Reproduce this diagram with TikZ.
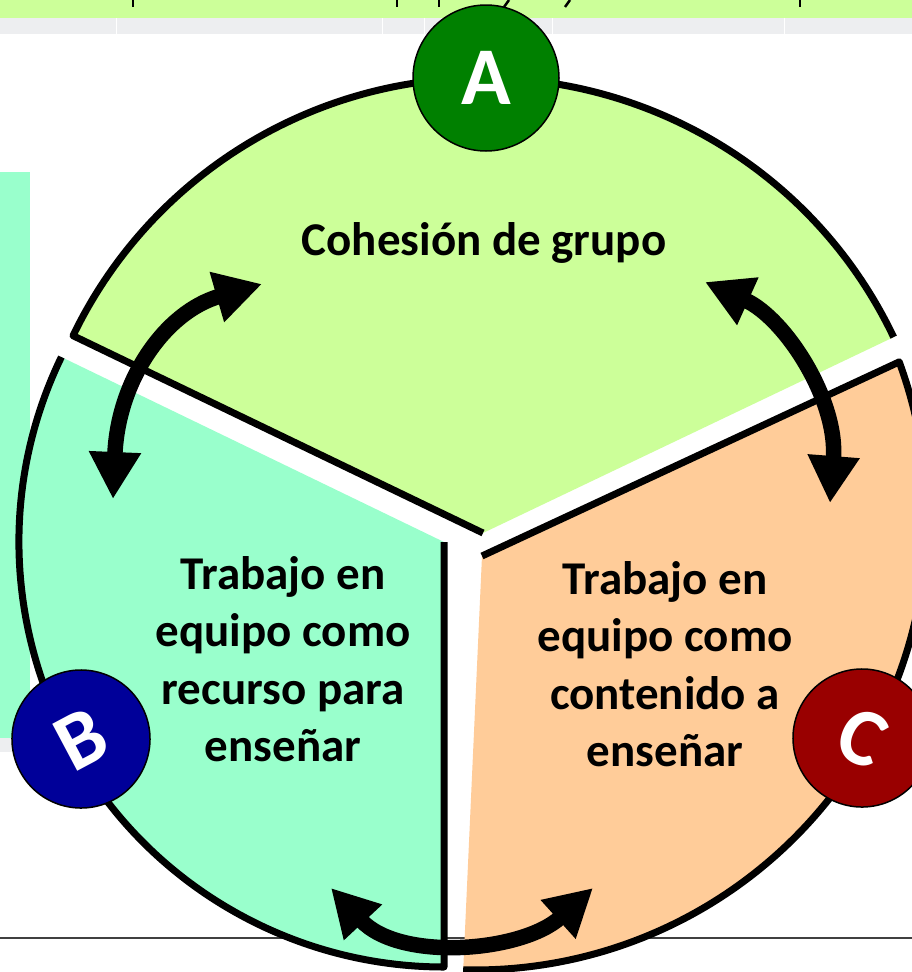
\documentclass[tikz,border=0pt]{standalone}
\usepackage{fontspec}
\setmainfont{Carlito}
\usetikzlibrary{arrows.meta}
\definecolor{Agreen}{HTML}{CCFF99}
\definecolor{Baqua}{HTML}{99FFCC}
\definecolor{Cpeach}{HTML}{FFCC99}
\definecolor{bandgray}{HTML}{EDEEF0}
\definecolor{Acirc}{HTML}{008000}
\definecolor{Bcirc}{HTML}{000099}
\definecolor{Ccirc}{HTML}{990000}
\tikzset{
  arcline/.style={line width=7pt, line join=round},
  dblarrow/.style={line width=15.5pt,
    {Triangle[length=47pt,width=49pt]}-{Triangle[length=47pt,width=49pt]}},
  badge/.style={circle, draw=black, line width=1.5pt, inner sep=0pt,
    text=white, font=\fontsize{82}{82}\selectfont\bfseries},
  lbl/.style={align=center, inner sep=0pt,
    font=\fontsize{47}{57.5}\selectfont\bfseries},
  tick/.style={line width=2.5pt, black},
}
\begin{document}
\begin{tikzpicture}[x=1pt,y=-1pt]
\useasboundingbox (0,0) rectangle (912,972);
\fill[white] (0,0) rectangle (912,972);
% top bands
\fill[Agreen] (0,0) rectangle (912,18);
\fill[bandgray] (0,18) rectangle (912,34);
\foreach \x in {116,382,424,552,784} \draw[white, line width=0.8pt] (\x,18) -- (\x,34);
\foreach \x in {133,397,439,800} \draw[tick] (\x,0) -- (\x,7);
\draw[tick] (509,0) -- (504,7);
\draw[tick] (570,0) -- (565,7);
% left strip
\fill[Baqua] (0,172) rectangle (30,738);
\fill[bandgray] (0,738) rectangle (32,752);
% bottom line
\coordinate (lineL) at (0,938);
\coordinate (lineR) at (912,938);
\draw[line width=2pt, black!75] (lineL) -- (lineR);
% slice A
\coordinate (VA) at (483,533);
\fill[Agreen] (VA) -- ++(-25.5:455) arc[start angle=-25.5, end angle=-154.3, radius=455] -- cycle;
\draw[arcline] (VA) ++(-25.5:455) arc[start angle=-25.5, end angle=-154.3, radius=455] -- (VA);
% slice B
\coordinate (VB) at (444,542);
\fill[Baqua] (VB) -- ++(-154.2:425) arc[start angle=-154.2, end angle=-270, radius=425] -- cycle;
\draw[arcline] (VB) ++(-154.2:425) arc[start angle=-154.2, end angle=-270, radius=425] -- (VB);
% slice C
\coordinate (VC) at (482,556);
\coordinate (CB) at (463.2,969.8);
\fill[Cpeach] (VC) -- (CB) arc[start angle=-268.5, end angle=-380.2, radius=452] -- cycle;
\draw[arcline] (CB) arc[start angle=-268.5, end angle=-380.2, radius=452] -- (VC);
% arrows
\coordinate (ab1) at (113,499);
\coordinate (ab2) at (262,284);
\coordinate (ac1) at (705,282);
\coordinate (ac2) at (830,503);
\coordinate (bc1) at (331,888);
\coordinate (bc2) at (593,888);
\draw[dblarrow] (ab1) .. controls (118,380) and (165,312) .. (ab2);
\draw[dblarrow] (ac1) .. controls (785,318) and (838,400) .. (ac2);
\draw[dblarrow] (bc1) .. controls (400,962) and (522,952) .. (bc2);
% texts
\node[lbl] (tA) at (484,243) {Cohesión de grupo};
\node[lbl] (tB) at (283,659) {Trabajo en\\equipo como\\recurso para\\enseñar};
\node[lbl] (tC) at (665,664) {Trabajo en\\equipo como\\contenido a\\enseñar};
% badges
\node[badge, fill=Acirc, minimum size=146pt] (cA) at (486,78) {A};
\node[badge, fill=Bcirc, minimum size=138pt, rotate=28] (cB) at (81,739) {B};
\node[badge, fill=Ccirc, minimum size=138pt, rotate=-25] (cC) at (862,738) {C};
\end{tikzpicture}
\end{document}
